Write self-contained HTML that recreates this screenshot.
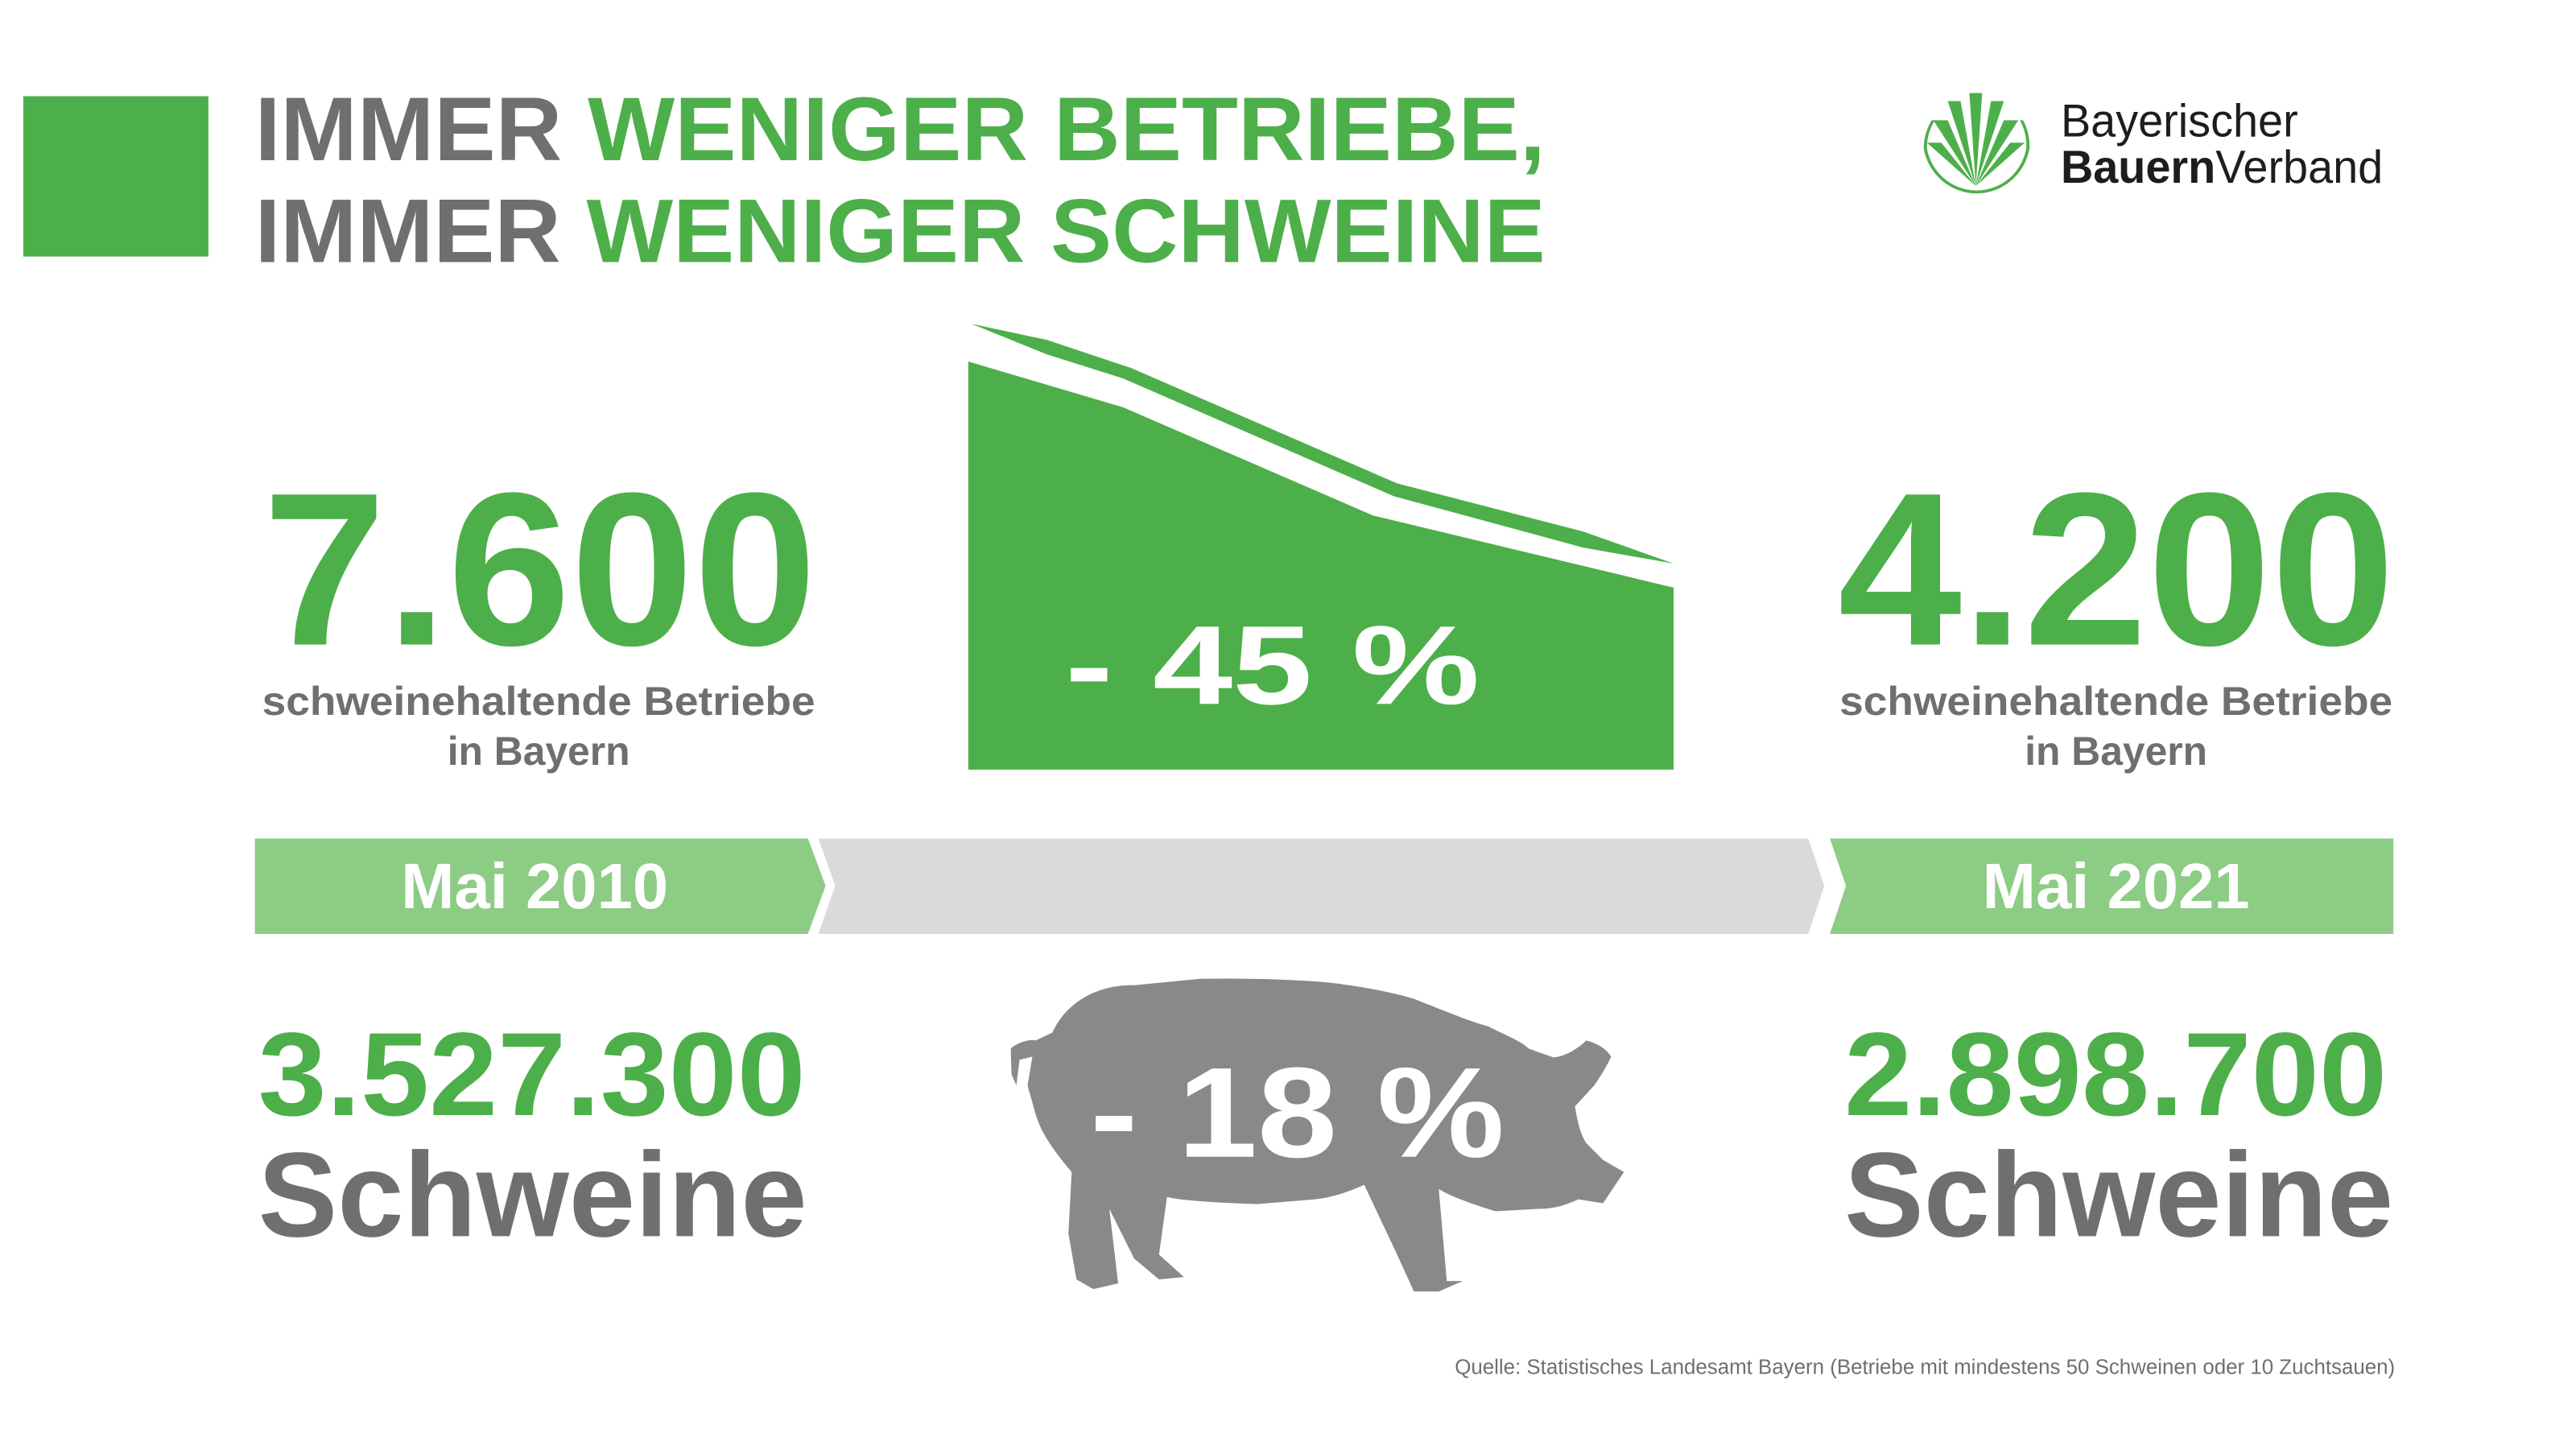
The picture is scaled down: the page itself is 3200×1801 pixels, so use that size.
<!DOCTYPE html>
<html><head><meta charset="utf-8"><style>
html,body{margin:0;padding:0;background:#fff;}
svg{display:block;}
text{font-family:"Liberation Sans",Arial,sans-serif;font-weight:bold;}
</style></head><body>
<svg width="3200" height="1801" viewBox="0 0 3200 1801" xmlns="http://www.w3.org/2000/svg">
<rect width="3200" height="1801" fill="#fff"/>
<g transform="scale(0.9957)">
<!-- header -->
<rect x="29" y="120" width="231" height="200" fill="#4daf4a"/>
<text x="318" y="200" font-size="113" textLength="1610" lengthAdjust="spacingAndGlyphs"><tspan fill="#6f6f6f">IMMER </tspan><tspan fill="#4daf4a">WENIGER BETRIEBE,</tspan></text>
<text x="318" y="327" font-size="113" textLength="1610" lengthAdjust="spacingAndGlyphs"><tspan fill="#6f6f6f">IMMER </tspan><tspan fill="#4daf4a">WENIGER SCHWEINE</tspan></text>
<!-- logo -->
<g fill="#4daf4a" stroke="none">
<path d="M2404,185 A63,64 0 0 0 2528,185 A63,64 0 0 0 2520,150 L2524,150 A67,68 0 0 1 2532,185 A67,68 0 0 1 2400,185 A67,68 0 0 1 2410,150 L2414,150 A63,64 0 0 0 2404,185 Z"/>
<path d="M2465,232 L2457,116 L2473,116 Z"/>
<path d="M2465,232 L2430,126 L2446,126 Z"/>
<path d="M2465,232 L2500,126 L2484,126 Z"/>
<path d="M2465,232 L2412,150 L2430,150 Z"/>
<path d="M2465,232 L2518,150 L2500,150 Z"/>
<path d="M2465,232 L2404,178 L2422,178 Z"/>
<path d="M2465,232 L2526,178 L2508,178 Z"/>
</g>
<text x="2571" y="170" font-size="58" fill="#1d1d1b" style="font-weight:normal" textLength="296" lengthAdjust="spacingAndGlyphs">Bayerischer</text>
<text x="2571" y="228" font-size="58" fill="#1d1d1b" textLength="402" lengthAdjust="spacingAndGlyphs"><tspan>Bauern</tspan><tspan style="font-weight:normal">Verband</tspan></text>
<!-- big numbers -->
<text x="328" y="804" font-size="272" fill="#4daf4a" textLength="691" lengthAdjust="spacingAndGlyphs">7.600</text>
<text x="2293" y="804" font-size="272" fill="#4daf4a" textLength="695" lengthAdjust="spacingAndGlyphs">4.200</text>
<g fill="#6f6f6f" font-size="50" text-anchor="middle">
<text x="672" y="892" textLength="690" lengthAdjust="spacingAndGlyphs">schweinehaltende Betriebe</text>
<text x="672" y="954">in Bayern</text>
<text x="2640" y="892" textLength="690" lengthAdjust="spacingAndGlyphs">schweinehaltende Betriebe</text>
<text x="2640" y="954">in Bayern</text>
</g>
<!-- chart -->
<polygon points="1208,451 1401,508 1713,643 2088,733 2088,960 1208,960" fill="#4daf4a"/>
<polygon points="1212,404 1306,424 1411,459 1743,603 1975,663 2088,703 1975,683 1739,619 1401,472 1306,442" fill="#4daf4a"/>
<text x="1329" y="878" font-size="140" fill="#fff" textLength="517" lengthAdjust="spacingAndGlyphs">- 45 %</text>
<!-- timeline -->
<polygon points="318,1046 1008,1046 1030,1105 1008,1165 318,1165" fill="#8ccc84"/>
<polygon points="1021,1046 2256,1046 2276,1105 2256,1165 1021,1165 1042,1105" fill="#dadada"/>
<polygon points="2283,1046 2986,1046 2986,1165 2283,1165 2303,1105" fill="#8ccc84"/>
<text x="667" y="1133" font-size="80" fill="#fff" text-anchor="middle">Mai 2010</text>
<text x="2640" y="1133" font-size="80" fill="#fff" text-anchor="middle">Mai 2021</text>
<!-- pig numbers -->
<text x="322" y="1391" font-size="148" fill="#4daf4a" textLength="683" lengthAdjust="spacingAndGlyphs">3.527.300</text>
<text x="322" y="1542" font-size="150" fill="#6f6f6f" textLength="685" lengthAdjust="spacingAndGlyphs">Schweine</text>
<text x="2301" y="1391" font-size="148" fill="#4daf4a" textLength="677" lengthAdjust="spacingAndGlyphs">2.898.700</text>
<text x="2301" y="1542" font-size="150" fill="#6f6f6f" textLength="685" lengthAdjust="spacingAndGlyphs">Schweine</text>
<!-- pig -->
<path fill="#898989" d="M1313,1288 C1330,1250 1370,1228 1415,1229 L1497,1221 C1560,1220 1620,1222 1661,1226 C1710,1232 1745,1240 1764,1246 C1800,1260 1835,1275 1856,1280 C1880,1292 1900,1300 1907,1308 L1938,1319 C1955,1318 1972,1305 1979,1298 C1995,1302 2005,1310 2010,1318 C2005,1330 1995,1345 1989,1354 L1965,1380 C1968,1400 1972,1415 1979,1426 L2000,1447 L2026,1462 L2000,1501 L1969,1496 C1950,1505 1935,1508 1918,1508 L1866,1511 C1830,1500 1805,1490 1795,1483 L1805,1598 L1825,1598 L1795,1611 L1764,1611 L1743,1565 L1702,1478 C1680,1488 1660,1494 1641,1496 L1569,1502 C1510,1500 1470,1497 1456,1493 L1446,1565 L1477,1593 L1446,1596 L1415,1570 L1384,1508 L1395,1601 L1364,1608 L1343,1596 L1333,1539 L1337,1462 C1310,1430 1298,1410 1292,1390 L1282,1354 L1288,1318 L1272,1322 L1268,1354 L1262,1340 L1261,1308 C1270,1300 1285,1296 1292,1298 Z"/>
<text x="1360" y="1443" font-size="160" fill="#fff" textLength="517" lengthAdjust="spacingAndGlyphs">- 18 %</text>
<!-- source -->
<text x="2988" y="1714" font-size="26" fill="#6f6f6f" style="font-weight:normal" text-anchor="end" textLength="1173" lengthAdjust="spacingAndGlyphs">Quelle: Statistisches Landesamt Bayern (Betriebe mit mindestens 50 Schweinen oder 10 Zuchtsauen)</text>
</g>
</svg>
</body></html>
